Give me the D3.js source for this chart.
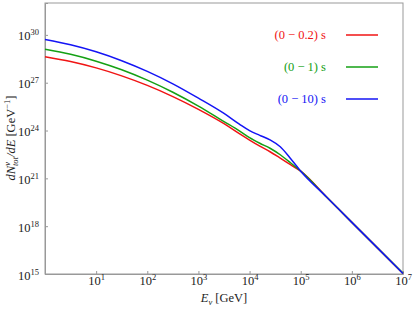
<!DOCTYPE html>
<html>
<head>
<meta charset="utf-8">
<script src="https://cdn.jsdelivr.net/npm/d3@7"></script>
<style>
  body { margin: 0; background: #fff; }
  svg text { font-family: "Liberation Serif", "Times New Roman", Times, serif; }
</style>
</head>
<body>
<svg id="chart" width="413" height="312"></svg>
<script>
// energies as log10(E / GeV), spectra as log10(dN/dE)
const logE      = [0, 0.5, 1, 1.5, 2, 2.5, 3, 3.5, 3.8, 4, 4.2, 4.4, 4.6, 4.8, 5, 5.5, 6, 6.5, 7];
const logN_02s  = [28.63, 28.33, 27.93, 27.43, 26.83, 26.13, 25.33, 24.43, 23.80, 23.40, 23.02, 22.67, 22.27, 21.86, 21.45, 19.85, 18.24, 16.64, 15.03];
const logN_1s   = [29.10, 28.78, 28.35, 27.81, 27.16, 26.40, 25.53, 24.56, 23.98, 23.55, 23.20, 22.89, 22.48, 21.98, 21.45, 19.85, 18.24, 16.64, 15.05];
const logN_10s  = [29.71, 29.38, 28.94, 28.38, 27.71, 26.93, 26.03, 25.07, 24.40, 23.99, 23.70, 23.41, 22.98, 22.25, 21.45, 19.85, 18.24, 16.64, 15.03];
const seriesNames  = ['(0 \u2212 0.2) s', '(0 \u2212 1) s', '(0 \u2212 10) s'];
const seriesColors = ['#f01414', '#14a014', '#1414f5'];
const xTickExp = [1, 2, 3, 4, 5, 6, 7];
const yTickExp = [15, 18, 21, 24, 27, 30];

const FONT = '"Liberation Serif", "Times New Roman", Times, serif';

const series = [logN_02s, logN_1s, logN_10s].map((ys, i) => ({
  name: seriesNames[i],
  color: seriesColors[i],
  pts: logE.map((e, j) => [Math.pow(10, e), Math.pow(10, ys[j])])
}));

let m = {left: 45, right: 10, top: 3, bottom: 38};
let W = 413, H = 312;
let svg = d3.select('#chart').attr('font-family', FONT);

let x = d3.scaleLog().domain([1, 1e7]).range([m.left, W - m.right]);
let y = d3.scaleLog().domain([1e15, 1e32]).range([H - m.bottom, m.top]);

// frame
svg.append('rect')
  .attr('x', m.left).attr('y', m.top)
  .attr('width', W - m.right - m.left).attr('height', H - m.bottom - m.top)
  .attr('fill', 'none').attr('stroke', '#999').attr('stroke-width', 1);

function supLabel(sel, exp) {
  sel.text(null);
  sel.append('tspan').text('10');
  sel.append('tspan').attr('font-size', 8.5).attr('dy', -5).text(exp);
}

let xAxis = svg.append('g')
  .attr('transform', `translate(0, ${H - m.bottom})`)
  .call(d3.axisBottom(x).tickValues(xTickExp.map(e => Math.pow(10, e)))
    .tickSize(-3).tickFormat(''))
  .attr('font-family', FONT);
xAxis.select('.domain').attr('stroke', '#999');
xAxis.selectAll('.tick line').attr('stroke', '#999');
xAxis.selectAll('.tick text')
  .attr('font-size', 12.5).attr('fill', '#222')
  .attr('y', 11).attr('dy', 0)
  .each(function(d, i) { supLabel(d3.select(this), xTickExp[i]); });

let yAxis = svg.append('g')
  .attr('transform', `translate(${m.left}, 0)`)
  .call(d3.axisLeft(y).tickValues(yTickExp.map(e => Math.pow(10, e)))
    .tickSize(-3).tickPadding(6).tickFormat(''))
  .attr('font-family', FONT);
yAxis.select('.domain').attr('stroke', '#999');
yAxis.selectAll('.tick line').attr('stroke', '#999');
yAxis.selectAll('.tick text')
  .attr('font-size', 12.5).attr('fill', '#222').attr('dy', 5)
  .each(function(d, i) { supLabel(d3.select(this), yTickExp[i]); });

// curves
let line = d3.line().x(d => x(d[0])).y(d => y(d[1])).curve(d3.curveMonotoneX);
svg.append('g').selectAll('path')
  .data(series)
  .enter()
    .append('path')
    .attr('d', d => line(d.pts))
    .attr('fill', 'none')
    .attr('stroke', d => d.color)
    .attr('stroke-width', 1.5);

// legend
let leg = svg.append('g').selectAll('g')
  .data(series)
  .enter()
    .append('g')
    .attr('transform', (d, i) => `translate(0, ${35 + i * 32})`);
leg.append('text')
  .attr('x', 326).attr('y', 4)
  .attr('text-anchor', 'end')
  .attr('font-size', 12.5)
  .attr('fill', d => d.color)
  .text(d => d.name);
leg.append('line')
  .attr('x1', 346).attr('x2', 378)
  .attr('stroke', d => d.color).attr('stroke-width', 1.5);

// axis labels
let xl = svg.append('text')
  .attr('x', 224).attr('y', 302)
  .attr('text-anchor', 'middle').attr('font-size', 12.5).attr('fill', '#222');
xl.append('tspan').attr('font-style', 'italic').text('E');
xl.append('tspan').attr('font-style', 'italic').attr('font-size', 8.5).attr('dy', 3).text('\u03bd');
xl.append('tspan').attr('dy', -3).text(' [GeV]');

let yl = svg.append('text')
  .attr('transform', 'translate(15, 138) rotate(-90)')
  .attr('text-anchor', 'middle').attr('font-size', 12.5).attr('fill', '#222');
yl.append('tspan').attr('font-style', 'italic').text('dN');
yl.append('tspan').attr('font-style', 'italic').attr('font-size', 8.5).attr('dy', -5).text('\u03bd');
yl.append('tspan').attr('font-style', 'italic').attr('font-size', 8.5).attr('dx', -4).attr('dy', 8).text('tot');
yl.append('tspan').attr('font-style', 'italic').attr('dy', -3).text('/dE');
yl.append('tspan').text(' [GeV');
yl.append('tspan').attr('font-size', 8.5).attr('dy', -5).text('\u22121');
yl.append('tspan').attr('dy', 5).text(']');
</script>
</body>
</html>
